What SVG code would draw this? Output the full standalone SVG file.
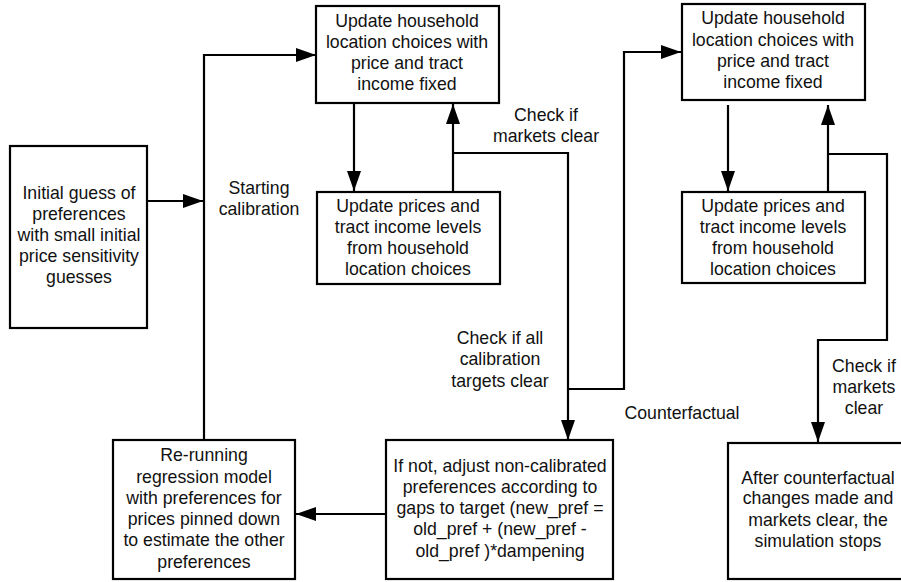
<svg xmlns="http://www.w3.org/2000/svg" width="901" height="582" viewBox="0 0 901 582">
<style>
.box{fill:#fff;stroke:#000;stroke-width:2.2}
.t{font-family:"Liberation Sans",Arial,sans-serif;font-size:17.7px;fill:#111;text-anchor:middle}
.c{fill:none;stroke:#000;stroke-width:2.2}
</style>
<defs>
<marker id="ah" markerUnits="userSpaceOnUse" markerWidth="20" markerHeight="14" refX="20" refY="7" orient="auto">
<path d="M0,0 L20,7 L0,14 z" fill="#000"/>
</marker>
</defs>
<g id="connectors">
<path class="c" d="M147,201 H203" marker-end="url(#ah)"/>
<path class="c" d="M204,440 V55 H316" marker-end="url(#ah)"/>
<path class="c" d="M354,103 V191" marker-end="url(#ah)"/>
<path class="c" d="M453,192 V104" marker-end="url(#ah)"/>
<path class="c" d="M453,153 H568 V440" marker-end="url(#ah)"/>
<path class="c" d="M568,389 H624 V52 H681" marker-end="url(#ah)"/>
<path class="c" d="M728,105 V191" marker-end="url(#ah)"/>
<path class="c" d="M828,192 V105" marker-end="url(#ah)"/>
<path class="c" d="M827,154 H887 V340 H818 V442" marker-end="url(#ah)"/>
<path class="c" d="M386,514 H296" marker-end="url(#ah)"/>
</g>
<g id="labels">
<text class="t" x="259" y="194">Starting</text>
<text class="t" x="259" y="215">calibration</text>
<text class="t" x="546" y="121">Check if</text>
<text class="t" x="546" y="142">markets clear</text>
<text class="t" x="500" y="344">Check if all</text>
<text class="t" x="500" y="365">calibration</text>
<text class="t" x="500" y="387">targets clear</text>
<text class="t" x="682" y="419">Counterfactual</text>
<text class="t" x="864" y="372">Check if</text>
<text class="t" x="864" y="393">markets</text>
<text class="t" x="864" y="414">clear</text>
</g>
<g id="nodeA">
<rect class="box" x="10" y="146" width="137" height="182"/>
<text class="t" x="79" y="199">Initial guess of</text>
<text class="t" x="79" y="220">preferences</text>
<text class="t" x="79" y="241">with small initial</text>
<text class="t" x="79" y="262">price sensitivity</text>
<text class="t" x="79" y="283">guesses</text>
</g>
<g id="nodeB">
<rect class="box" x="316" y="6" width="183" height="97"/>
<text class="t" x="407" y="27">Update household</text>
<text class="t" x="407" y="48">location choices with</text>
<text class="t" x="407" y="69">price and tract</text>
<text class="t" x="407" y="90">income fixed</text>
</g>
<g id="nodeC">
<rect class="box" x="317" y="192" width="183" height="92"/>
<text class="t" x="408" y="212">Update prices and</text>
<text class="t" x="408" y="233">tract income levels</text>
<text class="t" x="408" y="254">from household</text>
<text class="t" x="408" y="275">location choices</text>
</g>
<g id="nodeF">
<rect class="box" x="682" y="4" width="183" height="96"/>
<text class="t" x="773" y="24">Update household</text>
<text class="t" x="773" y="46">location choices with</text>
<text class="t" x="773" y="67">price and tract</text>
<text class="t" x="773" y="88">income fixed</text>
</g>
<g id="nodeG">
<rect class="box" x="682" y="192" width="183" height="91"/>
<text class="t" x="773" y="212">Update prices and</text>
<text class="t" x="773" y="233">tract income levels</text>
<text class="t" x="773" y="254">from household</text>
<text class="t" x="773" y="275">location choices</text>
</g>
<g id="nodeD">
<rect class="box" x="386" y="440" width="227" height="139"/>
<text class="t" x="500" y="472">If not, adjust non-calibrated</text>
<text class="t" x="500" y="493">preferences according to</text>
<text class="t" x="500" y="514">gaps to target (new_pref =</text>
<text class="t" x="500" y="535">old_pref + (new_pref -</text>
<text class="t" x="500" y="557">old_pref )*dampening</text>
</g>
<g id="nodeE">
<rect class="box" x="113" y="440" width="182" height="139"/>
<text class="t" x="204" y="461">Re-running</text>
<text class="t" x="204" y="483">regression model</text>
<text class="t" x="204" y="504">with preferences for</text>
<text class="t" x="204" y="525">prices pinned down</text>
<text class="t" x="204" y="546">to estimate the other</text>
<text class="t" x="204" y="568">preferences</text>
</g>
<g id="nodeH">
<rect class="box" x="728" y="443" width="183" height="136"/>
<text class="t" x="818" y="484">After counterfactual</text>
<text class="t" x="818" y="504">changes made and</text>
<text class="t" x="818" y="526">markets clear, the</text>
<text class="t" x="818" y="547">simulation stops</text>
</g>
</svg>
